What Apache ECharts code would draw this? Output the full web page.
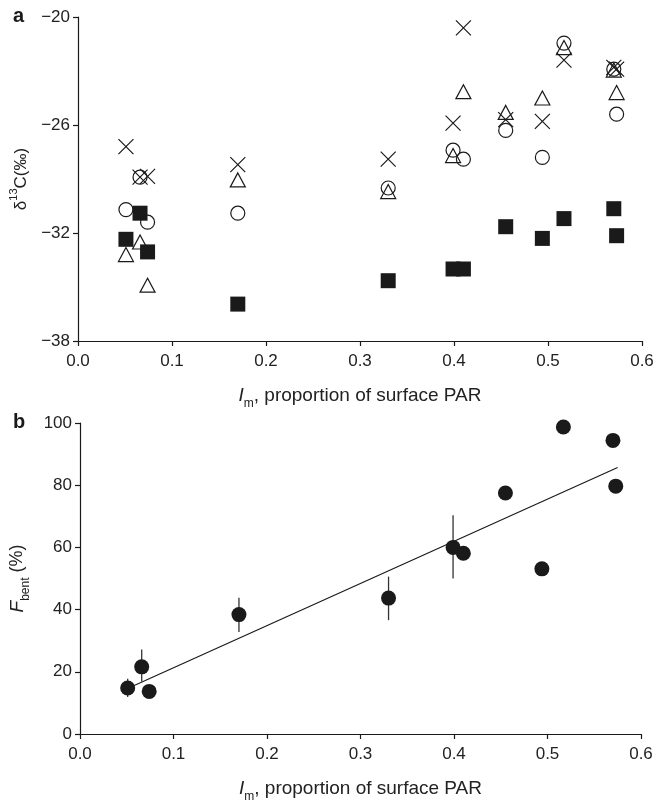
<!DOCTYPE html>
<html>
<head>
<meta charset="utf-8">
<script src="https://cdn.jsdelivr.net/npm/echarts@6/dist/echarts.min.js"></script>
<style>
    html, body { margin: 0; padding: 0; background: #fff; }
    #chart { width: 660px; height: 804px; }
</style>
</head>
<body>
<div id="chart"></div>
<script>
    // site light levels (Im, proportion of surface PAR)
    var siteIm = [0.051, 0.066, 0.074, 0.170, 0.330, 0.399, 0.410, 0.455, 0.494, 0.517, 0.570, 0.573]

    // panel a: d13C of the four groups, per site
    var d13cCross = [-27.2, -28.9, -28.85, -28.2, -27.9, -25.9, -20.6, -25.7, -25.8, -22.4, -22.8, -22.9]
    var d13cCircle = [-30.7, -28.9, -31.4, -30.9, -29.5, -27.4, -27.9, -26.3, -27.8, -21.45, -22.9, -25.4]
    var d13cTriangle = [-33.2, -32.5, -34.9, -29.05, -29.7, -27.7, -24.15, -25.3, -24.5, -21.7, -22.95, -24.2]
    var d13cSquare = [-32.35, -30.9, -33.05, -35.95, -34.65, -34.0, -34.0, -31.65, -32.3, -31.2, -30.65, -32.15]
    var d13cTicks = [-38, -32, -26, -20]

    // panel b: F bent (%) with error bars
    var fBent = [14.8, 21.6, 13.7, 38.4, 43.7, 60.0, 58.1, 77.5, 53.1, 98.7, 94.4, 79.7]
    var fBentLow = [11.9, 16.9, null, 32.8, 36.6, 50.0, null, null, null, null, null, null]
    var fBentHigh = [17.8, 27.2, null, 43.8, 50.6, 70.3, null, null, null, null, null, null]
    var fitIm = [0.055, 0.575]
    var fitF = [15.2, 85.7]

    var ink = '#1a1a1a'
    var font = 'Liberation Sans, Arial, sans-serif'

    function pairs (xs, ys) {
        return xs.map(function (x, i) { return [x, ys[i]] })
    }

    var errData = []
    siteIm.forEach(function (x, i) {
        if (fBentLow[i] !== null) {
            errData.push([x, fBentLow[i], fBentHigh[i]])
        }
    })

    function xAxisFor (gridIndex) {
        return {
            type: 'value',
            gridIndex: gridIndex,
            min: 0,
            max: 0.6,
            interval: 0.1,
            name: '{i|I}{sub|m}{n|, proportion of surface PAR}',
            nameLocation: 'middle',
            nameGap: 45,
            nameTextStyle: {
                rich: {
                    i: { fontSize: 19, fontStyle: 'italic', fontFamily: font, color: '#222', verticalAlign: 'top', lineHeight: 24 },
                    sub: { fontSize: 12, fontFamily: font, color: '#222', verticalAlign: 'bottom', lineHeight: 24 },
                    n: { fontSize: 19, fontFamily: font, color: '#222', verticalAlign: 'top', lineHeight: 24 }
                }
            },
            axisLine: { lineStyle: { color: ink, width: 1.2 } },
            axisTick: { length: 5, lineStyle: { color: ink, width: 1.2 } },
            axisLabel: {
                margin: 12,
                fontSize: 17,
                color: '#222',
                fontFamily: font,
                formatter: function (v) { return v.toFixed(1) }
            },
            splitLine: { show: false }
        }
    }

    // hollow outline markers
    var markerStyle = {
        color: 'rgba(0,0,0,0)',
        borderColor: ink,
        borderWidth: 1.2,
        opacity: 1
    }

    var chart = echarts.init(document.getElementById('chart'))
    chart.setOption({
        animation: false,
        textStyle: { fontFamily: font },
        grid: [
            { left: 78, right: 18, top: 17, height: 324 },
            { left: 80, right: 19, top: 423, height: 320 }
        ],
        xAxis: [xAxisFor(0), xAxisFor(1)],
        yAxis: [
            {
                type: 'value',
                gridIndex: 0,
                min: -38,
                max: -20,
                name: '{n|δ}{sup|13}{n|C(‰)}',
                nameLocation: 'middle',
                nameRotate: 90,
                nameGap: 46,
                nameTextStyle: {
                    rich: {
                        n: { fontSize: 17, fontFamily: font, color: '#222', verticalAlign: 'bottom', lineHeight: 22 },
                        sup: { fontSize: 11, fontFamily: font, color: '#222', verticalAlign: 'top', lineHeight: 22 }
                    }
                },
                axisLine: { show: true, lineStyle: { color: ink, width: 1.2 } },
                axisTick: { show: true, length: 5, customValues: d13cTicks, lineStyle: { color: ink, width: 1.2 } },
                axisLabel: {
                    margin: 8,
                    fontSize: 17,
                    color: '#222',
                    fontFamily: font,
                    customValues: d13cTicks,
                    formatter: function (v) { return String(v).replace('-', '\u2212') }
                },
                splitLine: { show: false }
            },
            {
                type: 'value',
                gridIndex: 1,
                min: 0,
                max: 100,
                interval: 20,
                name: '{i|F}{sub|bent}{n| (%)}',
                nameLocation: 'middle',
                nameRotate: 90,
                nameGap: 48,
                nameTextStyle: {
                    rich: {
                        i: { fontSize: 19, fontStyle: 'italic', fontFamily: font, color: '#222', verticalAlign: 'top', lineHeight: 24 },
                        sub: { fontSize: 12, fontFamily: font, color: '#222', verticalAlign: 'bottom', lineHeight: 24 },
                        n: { fontSize: 18, fontFamily: font, color: '#222', verticalAlign: 'top', lineHeight: 24 }
                    }
                },
                axisLine: { show: true, lineStyle: { color: ink, width: 1.2 } },
                axisTick: { show: true, length: 5, lineStyle: { color: ink, width: 1.2 } },
                axisLabel: { margin: 8, fontSize: 17, color: '#222', fontFamily: font },
                splitLine: { show: false }
            }
        ],
        graphic: [
            { type: 'text', left: 13, top: 6, style: { text: 'a', font: 'bold 20px ' + font, fill: ink } },
            { type: 'text', left: 13, top: 412, style: { text: 'b', font: 'bold 20px ' + font, fill: ink } }
        ],
        series: [
            {
                name: 'square',
                type: 'scatter',
                xAxisIndex: 0,
                yAxisIndex: 0,
                symbol: 'rect',
                symbolSize: 15,
                itemStyle: { color: ink, opacity: 1 },
                data: pairs(siteIm, d13cSquare)
            },
            {
                name: 'circle',
                type: 'scatter',
                xAxisIndex: 0,
                yAxisIndex: 0,
                symbol: 'circle',
                symbolSize: 14,
                itemStyle: markerStyle,
                data: pairs(siteIm, d13cCircle)
            },
            {
                name: 'triangle',
                type: 'scatter',
                xAxisIndex: 0,
                yAxisIndex: 0,
                symbol: 'triangle',
                symbolSize: [15, 14],
                itemStyle: markerStyle,
                data: pairs(siteIm, d13cTriangle)
            },
            {
                name: 'cross',
                type: 'scatter',
                xAxisIndex: 0,
                yAxisIndex: 0,
                symbol: 'path://M0,0L10,10M10,0L0,10',
                symbolSize: 15,
                itemStyle: markerStyle,
                data: pairs(siteIm, d13cCross)
            },
            {
                name: 'error',
                type: 'custom',
                xAxisIndex: 1,
                yAxisIndex: 1,
                renderItem: function (params, api) {
                    var p1 = api.coord([api.value(0), api.value(1)])
                    var p2 = api.coord([api.value(0), api.value(2)])
                    return {
                        type: 'line',
                        shape: { x1: p1[0], y1: p1[1], x2: p2[0], y2: p2[1] },
                        style: { stroke: '#333', lineWidth: 1.3 }
                    }
                },
                data: errData
            },
            {
                name: 'fit',
                type: 'line',
                xAxisIndex: 1,
                yAxisIndex: 1,
                symbol: 'none',
                lineStyle: { color: ink, width: 1.2 },
                data: pairs(fitIm, fitF)
            },
            {
                name: 'fbent',
                type: 'scatter',
                xAxisIndex: 1,
                yAxisIndex: 1,
                symbol: 'circle',
                symbolSize: 15,
                itemStyle: { color: ink, opacity: 1 },
                data: pairs(siteIm, fBent)
            }
        ]
    })
</script>
</body>
</html>
